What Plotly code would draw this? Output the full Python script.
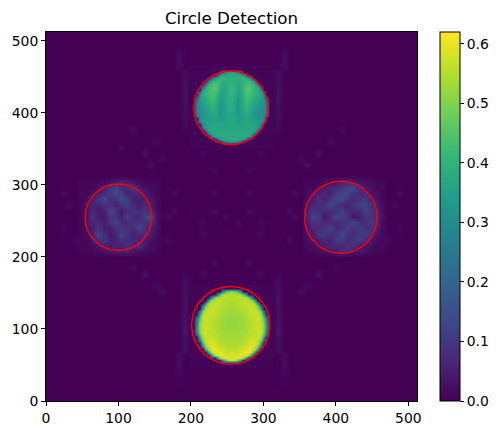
import numpy as np
import plotly.graph_objects as go

title = "Circle Detection"
axis_ticks = [0, 100, 200, 300, 400, 500]
bar_ticks = [0.0, 0.1, 0.2, 0.3, 0.4, 0.5, 0.6]
z_max = 0.62

# detected circles
circle_x = [255, 255, 100, 407]
circle_y = [407, 105, 255, 255]
circle_r = [51, 54, 46, 50]

# image values in hundredths. Bright discs: rows from high y to low y, centred on x=256, 4 units apart
top_disk_y_start = 456
top_disk = [
    [25, 33, 36, 37, 36, 33, 25],
    [20, 36, 38, 38, 38, 38, 38, 38, 38, 36, 20],
    [22, 37, 40, 41, 40, 39, 39, 40, 39, 39, 40, 41, 40, 37, 22],
    [30, 40, 42, 42, 41, 39, 38, 39, 40, 39, 38, 39, 41, 42, 42, 40, 30],
    [28, 40, 43, 44, 43, 41, 38, 38, 39, 40, 39, 37, 38, 41, 44, 44, 42, 40, 28],
    [24, 38, 42, 44, 45, 43, 40, 37, 38, 40, 41, 40, 37, 38, 42, 45, 45, 42, 39, 38, 24],
    [34, 40, 43, 45, 45, 42, 38, 36, 38, 40, 41, 40, 36, 37, 42, 45, 45, 43, 40, 38, 32],
    [26, 38, 41, 43, 44, 44, 40, 37, 35, 38, 40, 41, 39, 35, 37, 41, 44, 44, 42, 40, 38, 36, 24],
    [32, 38, 40, 42, 44, 43, 39, 36, 35, 37, 40, 40, 38, 35, 37, 40, 44, 43, 41, 40, 38, 36, 30],
    [20, 34, 37, 39, 41, 43, 42, 38, 35, 34, 37, 39, 40, 38, 34, 36, 40, 43, 42, 40, 38, 37, 35, 33, 18],
    [26, 33, 36, 37, 40, 42, 41, 37, 34, 34, 37, 39, 39, 37, 33, 35, 39, 43, 41, 39, 37, 36, 34, 32, 24],
    [28, 32, 35, 37, 39, 41, 40, 36, 33, 34, 36, 38, 39, 36, 33, 35, 38, 42, 40, 38, 36, 35, 33, 31, 26],
    [30, 31, 34, 36, 38, 40, 39, 35, 33, 34, 36, 38, 38, 36, 33, 35, 38, 41, 39, 37, 35, 33, 31, 31, 28],
    [29, 31, 33, 35, 37, 39, 38, 35, 33, 34, 36, 38, 38, 36, 33, 35, 37, 40, 38, 36, 34, 32, 31, 30, 27],
    [28, 31, 32, 34, 36, 38, 38, 35, 32, 34, 36, 37, 37, 36, 33, 35, 37, 38, 37, 35, 33, 32, 31, 30, 27],
    [26, 31, 32, 33, 35, 37, 37, 35, 33, 35, 36, 37, 37, 36, 34, 35, 36, 37, 36, 35, 33, 32, 32, 30, 24],
    [30, 33, 34, 35, 36, 37, 35, 34, 35, 36, 37, 37, 36, 34, 35, 36, 37, 36, 35, 34, 33, 32, 28],
    [30, 34, 35, 36, 36, 37, 36, 35, 36, 36, 37, 37, 36, 35, 36, 36, 37, 36, 36, 35, 34, 34, 28],
    [30, 35, 36, 37, 37, 37, 37, 36, 36, 36, 37, 37, 37, 36, 36, 37, 37, 37, 36, 35, 28],
    [26, 36, 37, 37, 37, 37, 37, 37, 37, 37, 37, 37, 37, 37, 37, 37, 37, 37, 37, 36, 24],
    [28, 37, 38, 38, 37, 37, 37, 37, 37, 37, 37, 37, 37, 37, 37, 38, 38, 37, 26],
    [30, 37, 38, 38, 38, 38, 38, 38, 38, 38, 38, 38, 38, 38, 38, 37, 28],
    [26, 36, 38, 38, 38, 38, 38, 38, 38, 38, 38, 38, 38, 36, 24],
    [22, 36, 38, 38, 38, 38, 38, 38, 38, 36, 20],
    [22, 32, 36, 37, 36, 32, 20],
]

bottom_disk_y_start = 152
bottom_disk = [
    [30, 44, 50, 54, 50, 44, 30],
    [28, 46, 54, 55, 55, 55, 55, 55, 54, 46, 28],
    [30, 50, 55, 55, 56, 56, 55, 55, 55, 56, 56, 55, 55, 50, 30],
    [38, 54, 55, 56, 56, 55, 55, 55, 55, 55, 55, 55, 56, 56, 55, 54, 38],
    [36, 54, 56, 56, 56, 56, 55, 55, 54, 54, 54, 55, 55, 56, 56, 56, 56, 54, 36],
    [30, 50, 56, 56, 56, 56, 55, 55, 54, 54, 54, 54, 54, 55, 55, 56, 56, 56, 56, 50, 30],
    [40, 55, 56, 57, 56, 56, 55, 54, 54, 54, 54, 54, 54, 54, 55, 56, 56, 57, 56, 55, 40],
    [26, 52, 56, 57, 57, 56, 55, 55, 54, 53, 53, 53, 53, 53, 54, 55, 55, 56, 57, 57, 56, 52, 26],
    [36, 55, 56, 57, 56, 56, 55, 54, 53, 53, 53, 53, 53, 53, 53, 54, 55, 56, 56, 57, 56, 55, 34],
    [22, 44, 56, 57, 57, 56, 55, 55, 54, 53, 52, 52, 52, 52, 52, 53, 54, 55, 55, 56, 57, 57, 56, 44, 20],
    [28, 48, 56, 57, 56, 56, 55, 54, 53, 53, 52, 52, 52, 52, 52, 53, 53, 54, 55, 56, 56, 57, 56, 48, 26],
    [30, 50, 57, 57, 56, 56, 55, 54, 53, 53, 52, 52, 52, 52, 52, 53, 53, 54, 55, 56, 56, 57, 57, 50, 28],
    [32, 52, 57, 57, 56, 55, 55, 54, 53, 53, 52, 52, 52, 52, 52, 53, 53, 54, 55, 55, 56, 57, 57, 52, 30],
    [30, 50, 57, 57, 56, 56, 55, 54, 53, 53, 52, 52, 53, 52, 52, 53, 53, 54, 55, 56, 56, 57, 57, 50, 28],
    [28, 50, 57, 57, 56, 56, 55, 54, 54, 53, 53, 53, 53, 53, 53, 53, 54, 54, 55, 56, 56, 57, 57, 50, 26],
    [22, 46, 56, 57, 57, 56, 55, 55, 54, 53, 53, 53, 53, 53, 53, 53, 54, 55, 55, 56, 57, 57, 56, 46, 20],
    [38, 55, 57, 57, 57, 56, 55, 54, 54, 53, 53, 53, 53, 53, 54, 54, 55, 56, 57, 57, 57, 55, 36],
    [26, 52, 56, 58, 58, 57, 56, 55, 54, 54, 54, 54, 54, 54, 54, 55, 56, 57, 58, 58, 56, 52, 24],
    [42, 56, 58, 59, 58, 56, 55, 55, 54, 54, 54, 54, 54, 55, 55, 56, 58, 59, 58, 56, 40],
    [30, 52, 57, 59, 59, 58, 56, 56, 55, 55, 55, 55, 55, 56, 56, 58, 59, 59, 57, 52, 28],
    [40, 56, 59, 60, 59, 58, 57, 56, 55, 55, 55, 56, 57, 58, 59, 60, 59, 56, 38],
    [38, 56, 59, 60, 60, 59, 57, 57, 57, 57, 57, 59, 60, 60, 59, 56, 36],
    [34, 55, 59, 60, 60, 59, 58, 58, 58, 59, 60, 60, 59, 55, 32],
    [30, 50, 57, 59, 59, 59, 59, 59, 57, 50, 28],
    [30, 46, 55, 56, 55, 46, 30],
]

# Faint discs: rows from high y to low y, 8 units apart
left_disk_origin = (48, 304)
left_disk = [
    [1, 1, 1, 1, 2, 3, 5, 6, 5, 3, 2, 1, 1, 1],
    [1, 1, 1, 3, 5, 9, 13, 7, 7, 9, 5, 3, 1, 1],
    [1, 1, 3, 5, 7, 11, 14, 11, 5, 7, 7, 5, 3, 1],
    [1, 2, 5, 9, 14, 7, 9, 14, 11, 5, 5, 5, 4, 2],
    [1, 3, 7, 5, 9, 9, 5, 9, 11, 7, 5, 7, 5, 2],
    [1, 4, 7, 4, 5, 13, 9, 4, 7, 9, 7, 9, 7, 3],
    [1, 4, 9, 5, 4, 9, 9, 5, 13, 7, 7, 13, 14, 4],
    [1, 4, 7, 7, 5, 9, 13, 7, 7, 9, 9, 9, 9, 4],
    [1, 3, 5, 9, 5, 5, 9, 9, 9, 7, 13, 7, 5, 3],
    [1, 2, 5, 13, 7, 4, 7, 13, 9, 5, 7, 7, 5, 2],
    [1, 1, 4, 7, 9, 5, 5, 9, 7, 7, 5, 5, 3, 1],
    [1, 1, 2, 4, 5, 5, 7, 5, 9, 5, 9, 4, 2, 1],
    [1, 1, 1, 2, 3, 4, 5, 5, 5, 4, 3, 2, 1, 1],
]

right_disk_origin = (360, 304)
right_disk = [
    [1, 1, 1, 2, 3, 4, 6, 7, 6, 4, 3, 2, 1, 1],
    [1, 1, 3, 5, 7, 7, 9, 13, 14, 7, 4, 3, 1, 1],
    [2, 4, 5, 7, 5, 11, 13, 14, 9, 7, 7, 4, 3, 1],
    [3, 5, 9, 5, 9, 13, 14, 9, 7, 9, 11, 5, 4, 1],
    [4, 7, 7, 9, 13, 9, 7, 5, 9, 11, 13, 9, 5, 2],
    [5, 9, 9, 7, 7, 9, 11, 7, 7, 7, 11, 9, 7, 2],
    [6, 13, 11, 3, 7, 13, 11, 9, 3, 4, 9, 9, 7, 3],
    [5, 9, 9, 7, 7, 7, 9, 9, 13, 9, 7, 11, 7, 2],
    [4, 7, 7, 9, 13, 7, 9, 11, 9, 11, 9, 9, 5, 2],
    [3, 5, 9, 11, 7, 9, 14, 9, 7, 9, 11, 7, 4, 1],
    [2, 4, 5, 7, 5, 11, 11, 7, 9, 11, 7, 4, 2, 1],
    [1, 2, 4, 5, 7, 7, 7, 9, 9, 5, 4, 3, 1, 1],
    [1, 1, 2, 3, 4, 5, 7, 7, 5, 4, 3, 1, 1, 1],
]

# Faint reconstruction streaks and spots
spot_x = [184, 184, 184, 184, 192, 192, 192, 192, 192, 192, 192, 192, 192, 192, 192,
          328, 328, 328, 328, 320, 320, 320, 320, 320, 320, 320, 320, 320, 320, 320,
          192, 192, 192, 192, 192, 192, 192, 192, 192, 192, 192, 192, 192, 192, 184, 184, 184, 184, 184, 184,
          320, 320, 320, 320, 320, 320, 320, 320, 320, 320, 320, 320, 320, 320, 328, 328, 328, 328, 328, 328,
          168, 176, 216, 232, 248, 264, 280, 296, 336, 344,
          168, 176, 216, 232, 280, 296, 336, 344,
          32, 24, 40, 24, 480, 488, 472, 488,
          136, 152, 144, 160, 120, 104, 376, 392, 360, 352, 408,
          136, 152, 160, 120, 376, 360, 352, 400,
          232, 280, 232, 280, 216, 296, 216, 296]
spot_y = [488, 480, 472, 464, 456, 448, 440, 432, 424, 416, 408, 400, 392, 384, 376,
          488, 480, 472, 464, 456, 448, 440, 432, 424, 416, 408, 400, 392, 384, 376,
          176, 168, 160, 152, 144, 136, 128, 120, 112, 104, 96, 88, 80, 72, 64, 56, 48, 40, 32, 24,
          176, 168, 160, 152, 144, 136, 128, 120, 112, 104, 96, 88, 80, 72, 64, 56, 48, 40, 32, 24,
          256, 264, 248, 264, 256, 248, 264, 248, 264, 256,
          224, 288, 232, 288, 288, 232, 224, 288,
          272, 240, 224, 288, 272, 240, 224, 288,
          344, 360, 328, 336, 376, 352, 344, 360, 328, 336, 376,
          176, 160, 152, 184, 176, 160, 152, 184,
          320, 320, 192, 192, 344, 344, 176, 176]
spot_v = [1, 2, 2, 2, 2, 2, 3, 3, 3, 3, 2, 2, 2, 1, 1,
          1, 2, 2, 2, 2, 2, 3, 3, 3, 3, 2, 2, 2, 1, 1,
          1, 2, 2, 2, 3, 3, 3, 3, 3, 4, 4, 3, 3, 3, 2, 2, 2, 1, 1, 1,
          1, 2, 2, 2, 3, 3, 3, 3, 3, 4, 4, 3, 3, 3, 2, 2, 2, 1, 1, 1,
          2, 2, 2, 2, 2, 2, 2, 2, 2, 2,
          2, 2, 2, 2, 2, 2, 2, 2,
          2, 2, 2, 2, 2, 2, 2, 2,
          3, 2, 3, 2, 2, 2, 3, 2, 3, 2, 2,
          3, 2, 2, 2, 3, 2, 2, 2,
          2, 2, 2, 2, 2, 2, 2, 2]

base_size = 65
base_step = 8
base = np.zeros((base_size, base_size))
base_axis = np.arange(base_size) * base_step
for x, y, v in zip(spot_x, spot_y, spot_v):
    base[y // base_step, x // base_step] = v / 100
for origin, block in [(left_disk_origin, left_disk), (right_disk_origin, right_disk)]:
    for r, row in enumerate(block):
        for c, v in enumerate(row):
            base[origin[1] // base_step - r, origin[0] // base_step + c] = v / 100


def fine_patch(rows, y_start):
    step, cols, pad = 4, 29, 2
    patch = np.full((len(rows) + 2 * pad, cols), 0.005)
    for r, row in enumerate(rows):
        left = (cols - len(row)) // 2
        patch[len(rows) + pad - 1 - r, left:left + len(row)] = np.array(row) / 100
    xs = 256 + step * (np.arange(cols) - cols // 2)
    ys = y_start - step * (len(rows) + pad - 1 - np.arange(patch.shape[0]))
    return xs, ys, patch


scale = dict(zmin=0, zmax=z_max, zsmooth="best", colorscale="Viridis", hoverinfo="skip")
fig = go.Figure(go.Heatmap(
    x=base_axis, y=base_axis, z=base, **scale,
    colorbar=dict(
        x=(440 - 46) / 371, xanchor="left", xpad=0, y=0, yanchor="bottom", len=1, ypad=0,
        thickness=20, outlinecolor="black", outlinewidth=1,
        tickmode="array", tickvals=bar_ticks, ticktext=[f"{t:.1f}" for t in bar_ticks],
        ticks="outside", ticklen=4, tickwidth=1, tickcolor="black",
        tickfont=dict(family="DejaVu Sans", size=13.9, color="black"),
    ),
))
for rows, y_start in [(top_disk, top_disk_y_start), (bottom_disk, bottom_disk_y_start)]:
    xs, ys, patch = fine_patch(rows, y_start)
    fig.add_trace(go.Heatmap(x=xs, y=ys, z=patch, showscale=False, **scale))

for cx, cy, r in zip(circle_x, circle_y, circle_r):
    fig.add_shape(type="circle", xref="x", yref="y", x0=cx - r, x1=cx + r, y0=cy - r, y1=cy + r,
                  line=dict(color="red", width=1.5))

axis_style = dict(
    range=[0, 512], tickmode="array", tickvals=axis_ticks, ticks="outside", ticklen=4, tickwidth=1,
    tickcolor="black", showline=True, linecolor="black", linewidth=1, mirror=True, showgrid=False,
    zeroline=False, tickfont=dict(family="DejaVu Sans", size=13.9, color="black"),
)
fig.update_layout(
    width=500, height=435, autosize=False, paper_bgcolor="white", plot_bgcolor="#440154",
    margin=dict(l=46, r=83, t=32, b=34, autoexpand=False),
    title=dict(text=title, x=231.5 / 500, xanchor="center", y=1 - 18 / 435, yanchor="middle",
               font=dict(family="DejaVu Sans", size=16.7, color="black")),
    xaxis=axis_style, yaxis=axis_style,
)
fig.write_html("out.html", config={"displayModeBar": False},
               post_script="document.body.style.margin='0';")
